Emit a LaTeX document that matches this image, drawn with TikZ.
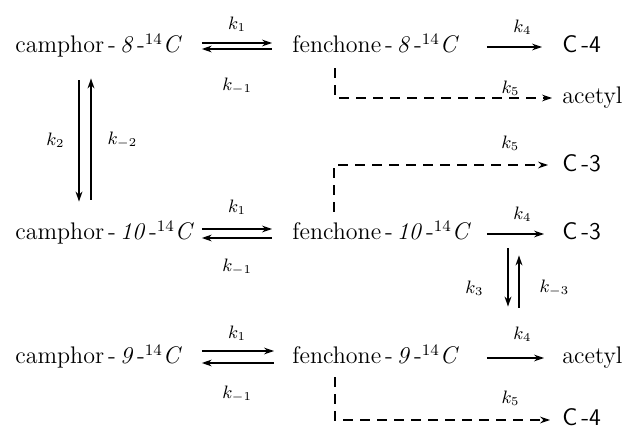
\documentclass[tikz,border=0pt]{standalone}
\usepackage{amsmath,amssymb}
\usepackage{tikz}
\usetikzlibrary{positioning,calc}
\usetikzlibrary{arrows.meta}
\tikzset{
	chem/.style={anchor=west,inner sep=1pt,font=\large,text height=9pt,text depth=3pt,align=left},
	camph/.style={chem,text width=92pt},
	fench/.style={chem,text width=95pt},
	frag/.style={chem,font=\large\sffamily},
	rate/.style={inner sep=1pt,font=\small},
	fwd/.style={-{Stealth[length=5pt,width=3.4pt]},line width=0.6pt},
	dsh/.style={fwd,dash pattern=on 5pt off 3.5pt},
}
\newcommand{\lbl}[1]{\mbox{\textit{#1}\,-\textsuperscript{14}\textit{C}}}

\begin{document}
\begin{tikzpicture}[x=0.5pt,y=-0.5pt]
			\useasboundingbox (0,0) rectangle (634,428);
			\node[camph] (c8) at (13,47) {camphor\,-\,\lbl{8}};
			\node[camph] (c10) at (13,234) {camphor\,-\,\lbl{10}};
			\node[camph] (c9) at (13,358) {camphor\,-\,\lbl{9}};
			\node[fench] (f8) at (290,47) {fenchone\,-\,\lbl{8}};
			\node[fench] (f10) at (290,234) {fenchone\,-\,\lbl{10}};
			\node[fench] (f9) at (290,358) {fenchone\,-\,\lbl{9}};
			\node[frag] (p4) at (560,47) {C\,-4};
			\node[chem] (ac8) at (560,98) {acetyl};
			\node[frag] (p3u) at (560,165) {C\,-3};
			\node[frag] (p3) at (560,234) {C\,-3};
			\node[chem] (ac9) at (560,358) {acetyl};
			\node[frag] (p4b) at (560,420) {C\,-4};
			\draw[fwd,shorten >=9pt] ([yshift=2pt]c8.east)--node[rate,pos=0.4,above=4.5pt] {$k_1$} ([yshift=2pt]f8.west);
			\draw[fwd,shorten <=9pt] ([yshift=-1pt]f8.west)--node[rate,pos=0.6,below=13pt] {$k_{-1}$} ([yshift=-1pt]c8.east);
			\draw[fwd,shorten >=9pt] ([yshift=2.5pt]c10.east)--node[rate,pos=0.4,above=6pt] {$k_1$} ([yshift=2.5pt]f10.west);
			\draw[fwd,shorten <=9pt] ([yshift=-2pt]f10.west)--node[rate,pos=0.6,below=9pt] {$k_{-1}$} ([yshift=-2pt]c10.east);
			\draw[fwd,shorten >=8pt] ([yshift=3.5pt]c9.east)--node[rate,pos=0.4,above=4pt] {$k_1$} ([yshift=3.5pt]f9.west);
			\draw[fwd,shorten <=8pt] ([yshift=-2.5pt]f9.west)--node[rate,pos=0.6,below=10pt] {$k_{-1}$} ([yshift=-2.5pt]c9.east);
			\draw[fwd,shorten <=9.5pt,shorten >=9pt] ([xshift=33pt]c8.south west)--node[rate,left=6pt] {$k_2$} ([xshift=33pt]c10.north west);
			\draw[fwd,shorten <=10pt,shorten >=8.5pt] ([xshift=39pt]c10.north west)--node[rate,right=7pt] {$k_{-2}$} ([xshift=39pt]c8.south west);
			\draw[fwd,shorten <=1pt,shorten >=9pt] (f8.east)--node[rate,above=5pt] {$k_4$} (p4.west);
			\draw[fwd,shorten <=1pt,shorten >=8pt] (f10.east)--node[rate,above=5pt] {$k_4$} (p3.west);
			\draw[fwd,shorten <=1pt,shorten >=8pt] (f9.east)--node[rate,above=7pt] {$k_4$} (ac9.west);
			\draw[dsh,shorten <=3.5pt,shorten >=4pt] ([xshift=22.5pt]f8.south west) |- node[rate,pos=0.89,above] {$k_5$} (ac8.west);
			\draw[dsh,shorten <=4pt,shorten >=6pt] ([xshift=22pt]f10.north west) |- node[rate,pos=0.89,above=6pt] {$k_5$} (p3u.west);
			\draw[dsh,shorten <=2.5pt,shorten >=5pt] ([xshift=22.5pt]f9.south west) |- node[rate,pos=0.89,above=6pt] {$k_5$} (p4b.west);
			\draw[fwd,shorten >=18.5pt] ([xshift=-26pt]p3.south west)--node[rate,pos=0.42,left=11pt] {$k_3$} ([xshift=-26pt]ac9.north west);
			\draw[fwd,shorten <=18pt,shorten >=3.5pt] ([xshift=-20.5pt]ac9.north west)--node[rate,pos=0.58,right=9pt] {$k_{-3}$} ([xshift=-20.5pt]p3.south west);
		\end{tikzpicture}
\end{document}
